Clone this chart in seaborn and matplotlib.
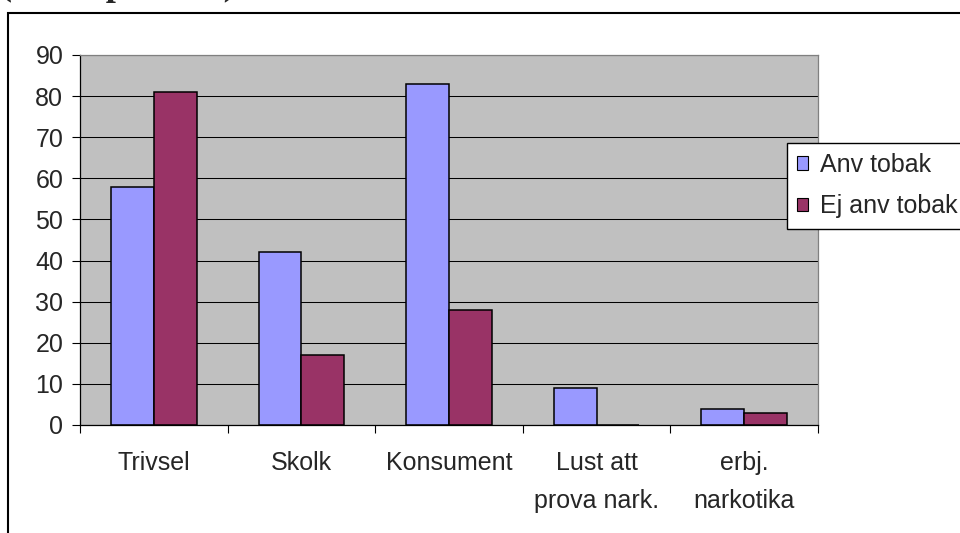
import numpy as np
import pandas as pd
import matplotlib
matplotlib.use("Agg")
import matplotlib.pyplot as plt
from matplotlib.patches import Patch, Rectangle
import seaborn as sns

# --------------------------
# Data
# --------------------------
kategorier = ["Trivsel", "Skolk", "Konsument", "Lust att\nprova nark.", "erbj.\nnarkotika"]
grupper = ["Anv tobak", "Ej anv tobak"]
anv_tobak = [58, 42, 83, 9, 4]
ej_anv_tobak = [81, 17, 28, 0, 3]
y_ticks = list(range(0, 100, 10))
farger = ["#9999FF", "#993366"]

df = pd.DataFrame({
    "kategori": kategorier * 2,
    "grupp": [grupper[0]] * len(kategorier) + [grupper[1]] * len(kategorier),
    "varde": anv_tobak + ej_anv_tobak,
})

# --------------------------
# Style
# --------------------------
sns.set_theme(style="white")
plt.rcParams["font.family"] = ["Liberation Sans", "DejaVu Sans"]

fig = plt.figure(figsize=(9.6, 5.33), dpi=100)
ax = fig.add_axes([80 / 960, 1 - 425 / 533, (818 - 80) / 960, (425 - 55) / 533])
ax.set_facecolor("#C0C0C0")

sns.barplot(data=df, x="kategori", y="varde", hue="grupp", hue_order=grupper,
            order=kategorier, palette=farger, width=0.58, gap=0,
            edgecolor="black", linewidth=1.1, saturation=1, legend=False, ax=ax)

# axes
ax.set_ylim(0, 90)
ax.set_yticks(y_ticks)
ax.set_xlim(-0.5, len(kategorier) - 0.5)
ax.set_xticks(np.arange(-0.5, len(kategorier)))
ax.set_xticklabels([""] * (len(kategorier) + 1))
ax.set_xticks(range(len(kategorier)), minor=True)
ax.set_xticklabels(kategorier, minor=True, linespacing=1.7)
ax.set_xlabel("")
ax.set_ylabel("")

ax.tick_params(axis="y", which="major", direction="out", length=6, width=0.8,
               color="black", labelsize=18, pad=6, left=True)
ax.tick_params(axis="x", which="major", direction="out", length=6, width=0.8,
               color="black", bottom=True)
ax.tick_params(axis="x", which="minor", length=0, labelsize=18, pad=19)

ax.yaxis.grid(True, color="black", linewidth=0.75)
ax.set_axisbelow(True)

for side in ["left", "bottom"]:
    ax.spines[side].set_color("black")
    ax.spines[side].set_linewidth(0.9)
for side in ["top", "right"]:
    ax.spines[side].set_color("#808080")
    ax.spines[side].set_linewidth(0.9)

# legend
handles = [Patch(facecolor=c, edgecolor="black", linewidth=0.8) for c in farger]
fig.legend(handles, grupper, loc="upper left",
           bbox_to_anchor=(787 / 960, 1 - 143 / 533), fontsize=18,
           frameon=True, fancybox=False, edgecolor="black", framealpha=1,
           handlelength=0.45, handleheight=0.45, handletextpad=0.45,
           borderpad=0.4, labelspacing=0.7, borderaxespad=0)

# outer chart border
fig.patches.append(Rectangle((8 / 960, -0.1), 1.0, 1 - 13 / 533 + 0.1,
                             transform=fig.transFigure, fill=False,
                             edgecolor="black", linewidth=1.5))

# heading, mostly cut off at the top (as in the source image)
fig.text(0.0, 1 + 5 / 533, "(svar i procent)", fontsize=26, fontweight="bold",
         family="Liberation Serif", va="baseline", ha="left")

fig.savefig("out.png", dpi=100)
